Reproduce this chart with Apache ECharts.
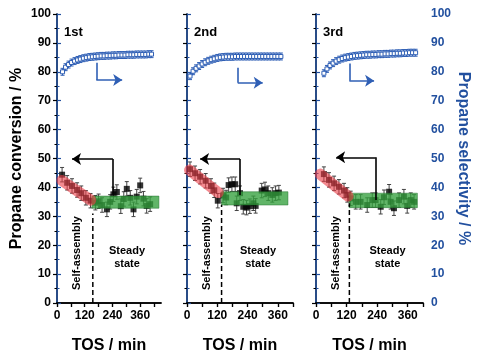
<!DOCTYPE html>
<html>
<head>
<meta charset="utf-8">
<script src="https://cdn.jsdelivr.net/npm/echarts@6/dist/echarts.min.js"></script>
<style>
html, body { margin: 0; padding: 0; background: #fff; }
#chart { width: 479px; height: 353px; }
</style>
</head>
<body>
<div id="chart"></div>
<script>
// x ticks / labels (TOS, min)
const xTicks = [0, 60, 120, 180, 240, 300, 360, 420]
const xLabels = [0, 120, 240, 360]
const xMax = [450, 420, 420]
const panelNames = ['1st', '2nd', '3rd']

// propane conversion, run 1..3
const tosConv1 = [22, 44, 65, 87, 105, 125, 145, 166, 180, 195, 216, 230, 244, 259, 276, 289, 302, 317, 331, 345, 360, 374, 388, 403]
const conv1 = [44.4, 41.6, 40.5, 39.1, 38.0, 36.4, 35.4, 34.7, 35.2, 33.9, 32.4, 35.0, 37.6, 38.4, 33.5, 36.0, 39.5, 36.4, 32.4, 36.8, 40.7, 36.1, 33.6, 34.2]
const tosConv2 = [12, 32, 52, 74, 95, 108, 122, 143, 155, 165, 178, 191, 197, 210, 223, 236, 249, 263, 272, 296, 309, 322, 338, 351, 364]
const conv2 = [46.3, 44.9, 43.7, 42.3, 40.5, 39.0, 35.4, 37.2, 36.5, 40.8, 41.1, 41.1, 34.5, 38.0, 33.3, 33.0, 33.5, 34.5, 33.6, 38.9, 39.3, 38.0, 37.4, 38.0, 38.2]
const tosConv3 = [31, 51, 71, 90, 110, 123, 136, 156, 175, 201, 221, 234, 254, 267, 287, 293, 306, 326, 345, 358, 372, 385]
const conv3 = [44.6, 42.6, 41.4, 40.2, 38.9, 37.4, 36.2, 35.0, 35.0, 33.9, 35.6, 35.6, 33.3, 36.6, 38.5, 35.0, 32.8, 35.6, 36.8, 33.6, 35.6, 35.0]

// propane selectivity, run 1..3
const tosSel1 = [24, 37, 50, 63, 76, 89, 101, 114, 127, 140, 153, 166, 178, 191, 204, 217, 230, 243, 255, 268, 281, 294, 307, 320, 332, 345, 358, 371, 384, 397, 409]
const sel1 = [80.0, 81.6, 82.5, 83.2, 83.7, 84.1, 84.4, 84.7, 84.9, 85.1, 85.2, 85.3, 85.4, 85.5, 85.5, 85.6, 85.6, 85.7, 85.7, 85.8, 85.8, 85.8, 85.9, 85.9, 85.9, 86.0, 86.0, 86.0, 86.0, 86.1, 86.1]
const tosSel2 = [12, 24, 36, 48, 60, 72, 84, 96, 108, 120, 132, 144, 156, 168, 180, 192, 204, 216, 228, 240, 252, 264, 276, 288, 300, 312, 324, 336, 348, 360, 372]
const sel2 = [78.5, 80.2, 81.2, 82.0, 82.7, 83.3, 83.8, 84.2, 84.5, 84.8, 85.0, 85.1, 85.2, 85.2, 85.2, 85.3, 85.3, 85.3, 85.3, 85.3, 85.3, 85.3, 85.3, 85.3, 85.3, 85.3, 85.3, 85.3, 85.3, 85.3, 85.3]
const tosSel3 = [31, 43, 55, 67, 79, 91, 103, 115, 127, 139, 151, 163, 175, 187, 199, 211, 223, 235, 247, 259, 271, 283, 295, 307, 319, 331, 343, 355, 367, 379, 391]
const sel3 = [79.5, 81.0, 82.2, 83.0, 83.7, 84.2, 84.6, 84.9, 85.1, 85.3, 85.5, 85.6, 85.7, 85.8, 85.9, 85.9, 86.0, 86.0, 86.1, 86.1, 86.2, 86.2, 86.3, 86.3, 86.4, 86.4, 86.5, 86.5, 86.6, 86.6, 86.6]

const convErr = 2.5
const selErr = 1.2

// self-assembly trend [t0, v0, t1, v1], steady-state window [t0, t1, vLow, vHigh], divider [t, top]
const redBands = [[21, 42.4, 146, 35.6], [10, 46.0, 124, 38.2], [16, 44.6, 126, 37.0]]
const greenBands = [[151, 441, 32.8, 37.0], [137, 400, 33.9, 38.5], [130, 398, 33.0, 38.0]]
const dividers = [[155, 31], [137, 34], [131, 34.5]]

// guide arrows (data coords): start, corner, tip
const convArrows = [[[242, 37.4], [242, 49.8], [65, 49.8]], [[210, 37.4], [210, 49.8], [52, 49.8]], [[234, 35.6], [234, 50.4], [79, 50.4]]]
const selArrows = [[[170, 83.1], [170, 77.2], [282, 77.2]], [[201, 81.4], [201, 76.2], [300, 76.2]], [[131, 82.9], [131, 76.9], [228, 76.9]]]

const FONT = 'Arial, "Liberation Sans", sans-serif'
const BLUE = '#22509f'
const SEL = '#2f5fb5'
const grids = [{ left: 57, width: 104 }, { left: 187, width: 106 }, { left: 316, width: 107 }]

const convSets = [[tosConv1, conv1], [tosConv2, conv2], [tosConv3, conv3]]
const selSets = [[tosSel1, sel1], [tosSel2, sel2], [tosSel3, sel3]]

function errBars(color, cap, lw) {
    return function (params, api) {
        const a = api.coord([api.value(0), api.value(2)])
        const b = api.coord([api.value(0), api.value(1)])
        const st = { stroke: color, lineWidth: lw }
        return {
            type: 'group',
            children: [
                { type: 'line', shape: { x1: a[0], y1: a[1], x2: b[0], y2: b[1] }, style: st },
                { type: 'line', shape: { x1: a[0] - cap, y1: a[1], x2: a[0] + cap, y2: a[1] }, style: st },
                { type: 'line', shape: { x1: b[0] - cap, y1: b[1], x2: b[0] + cap, y2: b[1] }, style: st }
            ]
        }
    }
}

function rectBand(params, api) {
    const p0 = api.coord([api.value(0), api.value(3)])
    const p1 = api.coord([api.value(1), api.value(2)])
    return {
        type: 'rect',
        shape: { x: p0[0], y: p0[1], width: p1[0] - p0[0], height: p1[1] - p0[1] },
        style: { fill: 'rgba(52,160,62,0.78)', stroke: 'rgba(30,110,40,0.8)', lineWidth: 0.6 }
    }
}

function arrowSeries(pts, xi, yi, color) {
    const base = {
        type: 'lines', coordinateSystem: 'cartesian2d', xAxisIndex: xi, yAxisIndex: yi, z: 8,
        symbolSize: [7, 9], lineStyle: { color: color, width: 1.6, opacity: 1 }
    }
    return [
        Object.assign({}, base, { symbol: ['none', 'none'], data: [{ coords: [pts[0], pts[1]] }] }),
        Object.assign({}, base, { symbol: ['none', 'arrow'], data: [{ coords: [pts[1], pts[2]] }] })
    ]
}

const xAxis = []
const yAxis = []
const series = []
const graphic = []

grids.forEach((g, i) => {
    const axisTxt = { fontFamily: FONT, fontWeight: 'bold', fontSize: 12, color: '#000' }
    xAxis.push({
        gridIndex: i, type: 'value', min: 0, max: xMax[i], position: 'bottom',
        name: 'TOS / min', nameLocation: 'middle', nameGap: 35,
        nameTextStyle: { fontFamily: FONT, fontWeight: 'bold', fontSize: 16, color: '#000' },
        axisLine: { lineStyle: { color: '#000', width: 1.5 } },
        axisTick: { customValues: xTicks, length: 4, lineStyle: { color: '#000', width: 1.2 } },
        axisLabel: Object.assign({ customValues: xLabels, margin: 7 }, axisTxt),
        splitLine: { show: false }
    })
    xAxis.push({
        gridIndex: i, type: 'value', min: 0, max: xMax[i], position: 'top',
        axisLine: { lineStyle: { color: '#000', width: 1.5 } },
        axisTick: { customValues: xTicks, inside: true, length: 4, lineStyle: { color: '#000', width: 1.2 } },
        axisLabel: { show: false },
        splitLine: { show: false }
    })
    yAxis.push({
        gridIndex: i, type: 'value', min: 0, max: 100, interval: 10, position: 'left',
        name: i === 0 ? 'Propane conversion / %' : '', nameLocation: 'middle', nameGap: 32,
        nameTextStyle: { fontFamily: FONT, fontWeight: 'bold', fontSize: 16, color: '#000' },
        axisLine: { show: true, lineStyle: { color: '#000', width: 1.5 } },
        axisTick: { show: true, length: 4, lineStyle: { color: '#000', width: 1.2 } },
        minorTick: { show: true, splitNumber: 2, length: 2.5, lineStyle: { color: '#000', width: 1 } },
        axisLabel: Object.assign({ show: i === 0, margin: 6 }, axisTxt),
        splitLine: { show: false }
    })
    yAxis.push({
        gridIndex: i, type: 'value', min: 0, max: 100, interval: 10, position: 'right',
        name: i === 2 ? 'Propane selectivity / %' : '', nameLocation: 'middle', nameGap: 30, nameRotate: -90,
        nameTextStyle: { fontFamily: FONT, fontWeight: 'bold', fontSize: 16, color: BLUE },
        axisLine: { show: true, lineStyle: { color: BLUE, width: 1.5 } },
        axisTick: { show: true, length: 4, lineStyle: { color: BLUE, width: 1.2 } },
        minorTick: { show: true, splitNumber: 2, length: 2.5, lineStyle: { color: BLUE, width: 1 } },
        axisLabel: Object.assign({}, axisTxt, { show: i === 2, margin: 8, color: BLUE }),
        splitLine: { show: false }
    })

    const xb = 2 * i, yl = 2 * i, yr = 2 * i + 1
    const [tc, vc] = convSets[i]
    const [ts, vs] = selSets[i]
    const rb = redBands[i], gb = greenBands[i], dv = dividers[i]

    series.push({
        type: 'custom', xAxisIndex: xb, yAxisIndex: yl, z: 2,
        renderItem: errBars('#444', 2, 1),
        encode: { x: 0, y: [1, 2] },
        data: tc.map((t, k) => [t, vc[k] - convErr, vc[k] + convErr])
    })
    series.push({
        type: 'scatter', xAxisIndex: xb, yAxisIndex: yl, z: 3,
        symbol: 'rect', symbolSize: 6,
        itemStyle: { color: '#000' },
        data: tc.map((t, k) => [t, vc[k]])
    })
    series.push({
        type: 'line', xAxisIndex: xb, yAxisIndex: yl, z: 4,
        symbol: 'none', silent: true,
        lineStyle: { color: 'rgba(235,60,70,0.6)', width: 11, cap: 'round' },
        data: [[rb[0], rb[1]], [rb[2], rb[3]]]
    })
    series.push({
        type: 'custom', xAxisIndex: xb, yAxisIndex: yl, z: 4,
        renderItem: rectBand,
        encode: { x: [0, 1], y: [2, 3] },
        data: [gb]
    })
    series.push({
        type: 'line', xAxisIndex: xb, yAxisIndex: yl, z: 5,
        symbol: 'none', silent: true,
        lineStyle: { color: '#000', width: 1.5, type: [5, 3] },
        data: [[dv[0], 0], [dv[0], dv[1]]]
    })
    series.push({
        type: 'custom', xAxisIndex: xb, yAxisIndex: yr, z: 6,
        renderItem: errBars(SEL, 2, 1),
        encode: { x: 0, y: [1, 2] },
        data: ts.map((t, k) => [t, vs[k] - selErr, vs[k] + selErr])
    })
    series.push({
        type: 'line', xAxisIndex: xb, yAxisIndex: yr, z: 7,
        symbol: 'rect', symbolSize: 4, showSymbol: true,
        itemStyle: { color: '#fff', borderColor: SEL, borderWidth: 1 },
        lineStyle: { color: SEL, width: 3 },
        data: ts.map((t, k) => [t, vs[k]])
    })
    series.push(...arrowSeries(convArrows[i], xb, yl, '#000'))
    series.push(...arrowSeries(selArrows[i], xb, yr, SEL))

    const mid = g.left + g.width / 2
    graphic.push({
        type: 'text', left: g.left + 7, top: 26,
        style: { text: panelNames[i], font: 'bold 13px ' + FONT, fill: '#000' }
    })
    graphic.push({
        type: 'text', x: g.left + 20, y: 253, rotation: Math.PI / 2,
        style: { text: 'Self-assembly', font: 'bold 11px ' + FONT, fill: '#000', align: 'center', verticalAlign: 'middle' }
    })
    graphic.push({
        type: 'text', x: mid + 18, y: 257,
        style: { text: 'Steady\nstate', font: 'bold 11px ' + FONT, fill: '#000', align: 'center', verticalAlign: 'middle', lineHeight: 13 }
    })
})

const chart = echarts.init(document.getElementById('chart'))
chart.setOption({
    animation: false,
    grid: grids.map(g => ({ left: g.left, width: g.width, top: 14, height: 289, outerBoundsMode: 'none' })),
    xAxis,
    yAxis,
    series,
    graphic
})
</script>
</body>
</html>
